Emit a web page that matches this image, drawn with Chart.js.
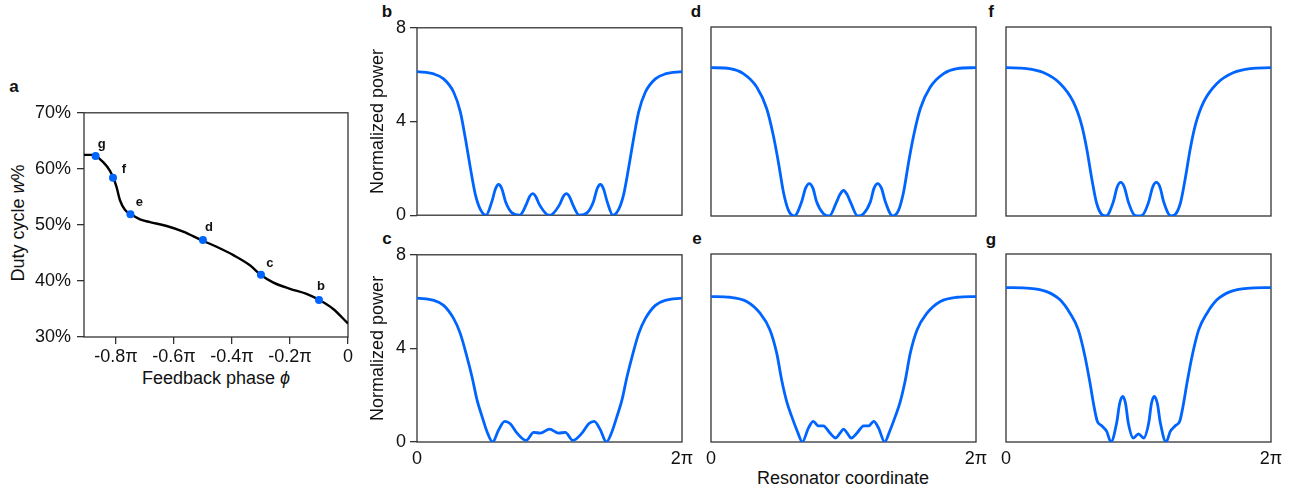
<!DOCTYPE html>
<html>
<head>
<meta charset="utf-8">
<script src="https://cdn.jsdelivr.net/npm/chart.js@4.4.1/dist/chart.umd.min.js"></script>
<style>
  body { margin:0; background:#fff; width:1301px; height:492px; position:relative; overflow:hidden;
         font-family:"Liberation Sans", Arial, sans-serif; color:#111; }
  .lbl { position:absolute; transform:translate(-50%,-50%); white-space:nowrap; font-size:18px; }
  .tag { position:absolute; transform:translate(-50%,-50%); font-weight:bold; font-size:17px; }
</style>
</head>
<body>

<div class="tag" style="left:14px;top:87px">a</div>
<div class="tag" style="left:387px;top:12px">b</div>
<div class="tag" style="left:696px;top:12px">d</div>
<div class="tag" style="left:991px;top:12px">f</div>
<div class="tag" style="left:387px;top:239px">c</div>
<div class="tag" style="left:697px;top:239px">e</div>
<div class="tag" style="left:991px;top:240px">g</div>

<div class="lbl" style="left:18px;top:223px;transform:translate(-50%,-50%) rotate(-90deg)">Duty cycle <i>w</i>%</div>
<div class="lbl" style="left:216px;top:378px">Feedback phase <i>ϕ</i></div>
<div class="lbl" style="left:843px;top:478px">Resonator coordinate</div>

<script>
// panel a: duty cycle vs feedback phase (phase in units of pi)
const phaseX = [-0.91, -0.884, -0.869, -0.844, -0.821, -0.809, -0.798, -0.786, -0.769, -0.748, -0.717, -0.683, -0.625,
                -0.568, -0.506, -0.453, -0.395, -0.338, -0.301, -0.257, -0.2, -0.143, -0.099, -0.051, 0];
const dutyY = [62.5, 62.5, 62.3, 61.2, 59.7, 58.4, 56.8, 54.4, 52.7, 51.9, 51.0, 50.5, 49.8,
               48.8, 47.3, 46.1, 44.6, 42.8, 41.1, 39.7, 38.6, 37.7, 36.6, 35.0, 32.4];
const markX = [-0.87, -0.81, -0.75, -0.5, -0.3, -0.1];
const markY = [62.3, 58.4, 51.9, 47.3, 41.1, 36.6];
const markLabels = ['g', 'f', 'e', 'd', 'c', 'b'];
const phaseTicks = [-0.8, -0.6, -0.4, -0.2, 0];
const phaseTickLabels = ['-0.8π', '-0.6π', '-0.4π', '-0.2π', '0'];
const dutyTicks = [30, 40, 50, 60, 70];
const dutyTickLabels = ['30%', '40%', '50%', '60%', '70%'];

// panels b-g: normalized power vs resonator coordinate (units of pi)
const bX = [0, 0.126, 0.201, 0.277, 0.327, 0.365, 0.403, 0.44, 0.478, 0.521, 0.566, 0.592, 0.616, 0.641, 0.667, 0.717,
            0.775, 0.825, 0.849, 0.873, 0.897, 0.923, 0.981, 1.0, 1.019, 1.077, 1.103, 1.127, 1.151, 1.175, 1.225,
            1.283, 1.333, 1.359, 1.384, 1.408, 1.434, 1.479, 1.522, 1.56, 1.597, 1.635, 1.673, 1.723, 1.799, 1.874, 2.0];
const bY = [6.13, 6.03, 5.82, 5.25, 4.41, 3.28, 2.01, 0.89, 0.25, 0, 0.6, 1.12, 1.31, 1.12, 0.6, 0.1,
            0, 0.46, 0.79, 0.92, 0.79, 0.46, 0.03, 0, 0.03, 0.46, 0.79, 0.92, 0.79, 0.46, 0,
            0.1, 0.6, 1.12, 1.31, 1.12, 0.6, 0, 0.25, 0.89, 2.01, 3.28, 4.41, 5.25, 5.82, 6.03, 6.13];

const cX = [0, 0.126, 0.201, 0.277, 0.327, 0.377, 0.415, 0.453, 0.491, 0.528, 0.571, 0.616, 0.662, 0.704, 0.755, 0.823, 0.881, 0.931, 1.0,
            1.069, 1.119, 1.177, 1.245, 1.296, 1.338, 1.384, 1.429, 1.472, 1.509, 1.547, 1.585, 1.623, 1.673, 1.723, 1.799, 1.874, 2.0];
const cY = [6.15, 6.05, 5.84, 5.27, 4.63, 3.64, 2.79, 1.80, 1.09, 0.45, 0, 0.52, 0.88, 0.78, 0.38, 0.07, 0.41, 0.38, 0.55,
            0.38, 0.41, 0.07, 0.38, 0.78, 0.88, 0.52, 0, 0.45, 1.09, 1.80, 2.79, 3.64, 4.63, 5.27, 5.84, 6.05, 6.15];

const dX = [0, 0.143, 0.244, 0.345, 0.42, 0.47, 0.508, 0.546, 0.584, 0.629, 0.684, 0.713, 0.742, 0.770, 0.797, 0.848,
            0.893, 0.948, 0.974, 1.0, 1.026, 1.052, 1.107, 1.152, 1.203, 1.23, 1.258, 1.287, 1.316, 1.371,
            1.416, 1.454, 1.492, 1.53, 1.58, 1.655, 1.756, 1.857, 2.0];
const dY = [6.28, 6.24, 6.03, 5.46, 4.55, 3.42, 2.30, 1.03, 0.25, 0, 0.6, 1.17, 1.37, 1.17, 0.6, 0.1,
            0, 0.6, 0.92, 1.08, 0.92, 0.6, 0, 0.1, 0.6, 1.17, 1.37, 1.17, 0.6, 0,
            0.25, 1.03, 2.30, 3.42, 4.55, 5.46, 6.03, 6.24, 6.28];

const eX = [0, 0.143, 0.269, 0.37, 0.445, 0.496, 0.533, 0.571, 0.609, 0.652, 0.689, 0.735, 0.772, 0.81, 0.848, 0.898, 0.941, 0.974, 1.0,
            1.028, 1.059, 1.102, 1.152, 1.19, 1.228, 1.265, 1.311, 1.348, 1.391, 1.429, 1.467, 1.504, 1.555, 1.63, 1.731, 1.857, 2.0];
const eY = [6.19, 6.16, 5.98, 5.48, 4.77, 3.78, 2.65, 1.73, 1.09, 0.45, 0, 0.59, 0.88, 0.69, 0.69, 0.38, 0.17, 0.38, 0.55,
            0.38, 0.17, 0.38, 0.69, 0.69, 0.88, 0.59, 0, 0.45, 1.09, 1.73, 2.65, 3.78, 4.77, 5.48, 5.98, 6.16, 6.19];

const fX = [0, 0.156, 0.282, 0.408, 0.508, 0.571, 0.609, 0.647, 0.684, 0.73, 0.755, 0.81, 0.838, 0.865, 0.894, 0.923, 0.969, 1.0,
            1.031, 1.077, 1.106, 1.135, 1.163, 1.19, 1.245, 1.27, 1.316, 1.353, 1.391, 1.429, 1.492, 1.592, 1.718, 1.844, 2.0];
const fY = [6.28, 6.24, 6.07, 5.61, 4.83, 3.85, 2.86, 1.59, 0.54, 0.03, 0, 0.6, 1.21, 1.42, 1.21, 0.6, 0.04, 0,
            0.04, 0.6, 1.21, 1.42, 1.21, 0.6, 0, 0.03, 0.54, 1.59, 2.86, 3.85, 4.83, 5.61, 6.07, 6.24, 6.28];

const gX = [0, 0.181, 0.307, 0.408, 0.483, 0.546, 0.596, 0.634, 0.664, 0.689, 0.722, 0.76, 0.792, 0.835, 0.858, 0.881, 0.902, 0.923, 0.961, 1.0,
            1.039, 1.077, 1.098, 1.119, 1.142, 1.165, 1.208, 1.24, 1.278, 1.311, 1.336, 1.366, 1.404, 1.454, 1.517, 1.592, 1.693, 1.819, 2.0];
const gY = [6.57, 6.54, 6.40, 6.05, 5.48, 4.77, 3.64, 2.51, 1.52, 0.88, 0.69, 0.45, 0, 0.81, 1.65, 1.94, 1.65, 0.81, 0.17, 0.35,
            0.17, 0.81, 1.65, 1.94, 1.65, 0.81, 0, 0.45, 0.69, 0.88, 1.52, 2.51, 3.64, 4.77, 5.48, 6.05, 6.40, 6.54, 6.57];

const resTicks = [0, 2];
const resTickLabels = ['0', '2π'];
const powerTicks = [0, 4, 8];
const powerTickLabels = ['0', '4', '8'];

// label nudges for the point letters in panel a (pixels)
const tagDx = [6, 11, 9, 6, 9, 2];
const tagDy = [-12, -8, -12, -13, -11, -14];

const BLUE = '#0064ff';
const INK = '#111';
const FRAME = '#333';
Chart.defaults.font.family = '"Liberation Sans", Arial, sans-serif';
Chart.defaults.font.size = 18;
Chart.defaults.color = INK;

// box around the plot area
const framePlugin = {
  id: 'frame',
  beforeDatasetsDraw(chart) {
    const { ctx, chartArea: a } = chart;
    ctx.save();
    ctx.strokeStyle = FRAME;
    ctx.lineWidth = 1.3;
    ctx.strokeRect(a.left, a.top, a.right - a.left, a.bottom - a.top);
    ctx.restore();
  }
};

const pointTagPlugin = {
  id: 'pointTags',
  afterDatasetsDraw(chart) {
    const { ctx, scales: { x, y } } = chart;
    ctx.save();
    ctx.font = 'bold 13px "Liberation Sans", Arial, sans-serif';
    ctx.fillStyle = INK;
    ctx.textAlign = 'center';
    ctx.textBaseline = 'middle';
    markLabels.forEach((t, i) => {
      ctx.fillText(t, x.getPixelForValue(markX[i]) + tagDx[i], y.getPixelForValue(markY[i]) + tagDy[i]);
    });
    ctx.restore();
  }
};

function addCanvas(box) {
  const cv = document.createElement('canvas');
  const w = box.yW + box.W + box.padR;
  const h = box.padT + box.H + box.xH;
  cv.width = w;
  cv.height = h;
  cv.style.cssText = `position:absolute;left:${box.L - box.yW}px;top:${box.T - box.padT}px;width:${w}px;height:${h}px`;
  document.body.appendChild(cv);
  return cv;
}

function toPoints(xs, ys) {
  return xs.map((x, i) => ({ x: x, y: ys[i] }));
}

function fixedTicks(values) {
  return s => { s.ticks = values.map(v => ({ value: v })); };
}

function powerPanel(xs, ys, L, T, H, showY, showX) {
  const box = { L, T, W: 265, H, yW: showY ? 50 : 10, xH: showX ? 30 : 14, padT: 14, padR: 16 };
  new Chart(addCanvas(box), {
    type: 'line',
    data: {
      datasets: [{
        data: toPoints(xs, ys),
        borderColor: BLUE,
        borderWidth: 2.8,
        pointRadius: 0,
        cubicInterpolationMode: 'monotone',
        fill: false
      }]
    },
    options: {
      responsive: false,
      animation: false,
      events: [],
      layout: { padding: { top: box.padT, right: box.padR, left: 0, bottom: 0 } },
      plugins: { legend: { display: false }, tooltip: { enabled: false } },
      scales: {
        x: {
          type: 'linear', min: 0, max: 2,
          afterFit: s => { s.height = box.xH; },
          afterBuildTicks: fixedTicks(resTicks),
          ticks: { display: showX, padding: 2, maxRotation: 0, autoSkip: false,
                   callback: v => resTickLabels[resTicks.indexOf(v)] },
          grid: { display: false, drawTicks: true, tickLength: 4 },
          border: { display: false }
        },
        y: {
          type: 'linear', min: 0, max: 8,
          afterFit: s => { s.width = box.yW; },
          afterBuildTicks: fixedTicks(powerTicks),
          ticks: { display: showY, padding: 4, callback: v => powerTickLabels[powerTicks.indexOf(v)] },
          grid: { display: showY, drawOnChartArea: false, drawTicks: true, tickLength: 7, color: FRAME, lineWidth: 1.3 },
          border: { display: false },
          title: { display: showY, text: 'Normalized power', padding: { top: 0, bottom: 0 } }
        }
      }
    },
    plugins: [framePlugin]
  });
}

// panel a
(function () {
  const box = { L: 84, T: 110, W: 264, H: 227, yW: 60, xH: 30, padT: 14, padR: 12 };
  new Chart(addCanvas(box), {
    type: 'line',
    data: {
      datasets: [
        {
          data: toPoints(markX, markY),
          showLine: false,
          pointRadius: 4,
          pointBackgroundColor: BLUE,
          pointBorderWidth: 0
        },
        {
          data: toPoints(phaseX, dutyY),
          borderColor: '#000',
          borderWidth: 2.4,
          pointRadius: 0,
          cubicInterpolationMode: 'monotone',
          fill: false
        }
      ]
    },
    options: {
      responsive: false,
      animation: false,
      events: [],
      layout: { padding: { top: box.padT, right: box.padR, left: 0, bottom: 0 } },
      plugins: { legend: { display: false }, tooltip: { enabled: false } },
      scales: {
        x: {
          type: 'linear', min: -0.91, max: 0,
          afterFit: s => { s.height = box.xH; },
          afterBuildTicks: fixedTicks(phaseTicks),
          ticks: { padding: 2, maxRotation: 0, autoSkip: false,
                   callback: v => phaseTickLabels[phaseTicks.indexOf(v)] },
          grid: { drawOnChartArea: false, drawTicks: true, tickLength: 7, color: FRAME, lineWidth: 1.3 },
          border: { display: false }
        },
        y: {
          type: 'linear', min: 30, max: 70,
          afterFit: s => { s.width = box.yW; },
          afterBuildTicks: fixedTicks(dutyTicks),
          ticks: { padding: 6, callback: v => dutyTickLabels[dutyTicks.indexOf(v)] },
          grid: { drawOnChartArea: false, drawTicks: true, tickLength: 7, color: FRAME, lineWidth: 1.3 },
          border: { display: false }
        }
      }
    },
    plugins: [framePlugin, pointTagPlugin]
  });
})();

powerPanel(bX, bY, 417, 27, 189, true, false);
powerPanel(dX, dY, 711, 27, 189, false, false);
powerPanel(fX, fY, 1006, 27, 189, false, false);
powerPanel(cX, cY, 417, 254, 188, true, true);
powerPanel(eX, eY, 711, 254, 188, false, true);
powerPanel(gX, gY, 1006, 254, 188, false, true);
</script>
</body>
</html>
